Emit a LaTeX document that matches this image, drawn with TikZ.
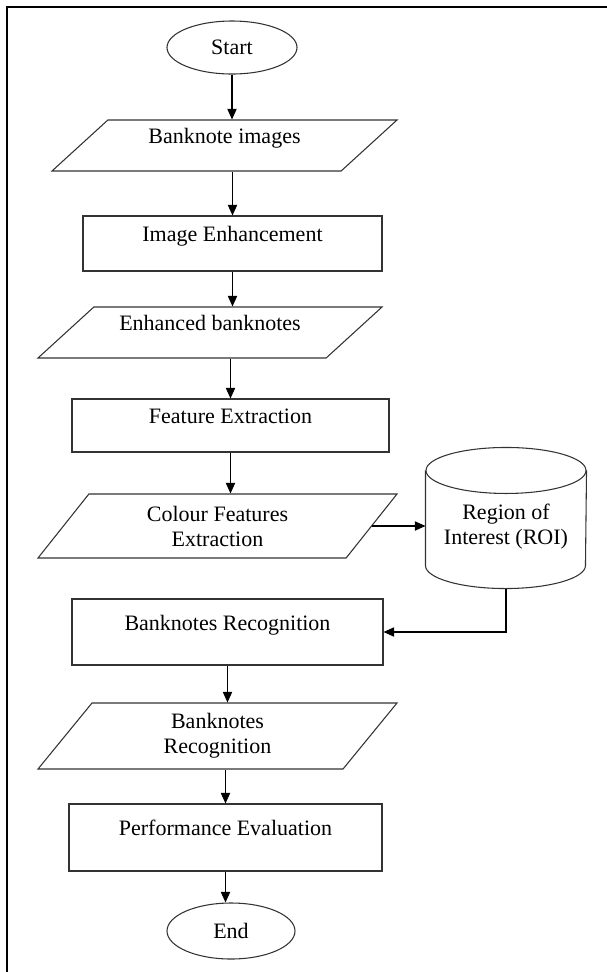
\documentclass[tikz,border=0pt]{standalone}
\usepackage{fontspec}
\setmainfont{Liberation Serif}
\usepackage{tikz}
\usetikzlibrary{shapes.geometric,arrows.meta}

\def\u{0.75pt}
\def\rx{80} \def\ry{23} % Radii of the cylinder ends

\begin{document}
\begin{tikzpicture}[x=0.75pt,y=-0.75pt,>={Triangle[length=8pt,width=7pt]},
    every node/.style={font=\fontsize{16.5pt}{18.75pt}\selectfont,draw=black!80,line width=0.8pt,inner sep=2pt},
    wh/.style 2 args={minimum width=#1*\u,minimum height=#2*\u},
    term/.style={ellipse},
    process/.style={rectangle},
    data/.style={trapezium,trapezium stretches body,trapezium left angle=#1,trapezium right angle=180-#1,align=center},
    data/.default=37,
    store/.style={rectangle,draw=none,align=center},
    outline/.style={draw=black!80,line width=0.8pt},
    lifted/.style={text height=12pt,text depth=15pt}]

    \useasboundingbox (0,0) rectangle (607,972);
    \draw[line width=1.6pt] (7,980) -- (7,7) -- (615,7); % Frame

    % Flow chart boxes
    \node[term,wh={130}{53}] (start) at (232,47.5) {Start};
    \node[data=36.5,lifted,wh={345}{51}] (img) at (224.5,145.5) {Banknote images};
    \node[process,lifted,wh={299}{55}] (enh) at (232.5,243.5) {Image Enhancement};
    \node[data=36.5,lifted,wh={344}{51}] (enhimg) at (210,332.5) {Enhanced banknotes};
    \node[process,lifted,wh={317}{53}] (feat) at (230.5,425.5) {Feature Extraction};
    \node[data=42,wh={359}{64}] (colour) at (217.5,526) {Colour Features\\Extraction};
    \node[store,wh={160}{123}] (roi) at (506,526.5) {Region of\\Interest (ROI)};
    \node[process,lifted,wh={311}{66}] (recog) at (227.5,632) {Banknotes Recognition};
    \node[data=43,wh={359}{66}] (recogout) at (217.5,736) {Banknotes\\Recognition};
    \node[process,lifted,wh={313}{67}] (perf) at (225.5,837.5) {Performance Evaluation};
    \node[term,wh={128}{56}] (stop) at (231,931) {End};

    % Cylinder round the ROI text
    \path (roi.north) ++(0,6) coordinate (roitop);
    \path (roi.south) ++(0,-\ry) coordinate (roibot);
    \draw[outline] (roi.west |- roitop) -- (roi.west |- roibot)
        arc[start angle=180,end angle=0,x radius=\rx,y radius=\ry] -- (roi.east |- roitop);
    \draw[outline] (roitop) ellipse[x radius=\rx,y radius=\ry];

    % Arrows
    \foreach \a/\b in {start/img, enh/enhimg, feat/colour, recog/recogout, perf/stop}
        {
        \draw[->,line width=0.8pt] (\a) -- (\a |- \b.north);
        }
    \foreach \a/\b in {img/enh, enhimg/feat, recogout/perf}
        {
        \draw[->,line width=0.8pt] (\b |- \a.south) -- (\b);
        }
    \draw[->,line width=0.8pt] (colour.east) -- (colour.east -| roi.west);
    \draw[->,line width=0.8pt] (roi.south) |- (recog.east);

\end{tikzpicture}
\end{document}
